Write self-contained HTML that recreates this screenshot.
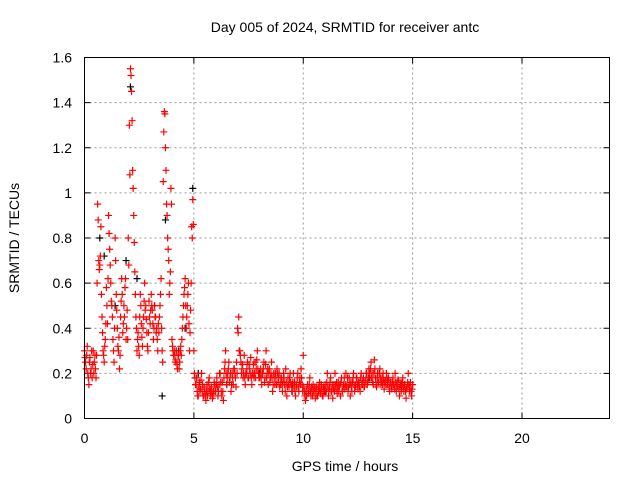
<!DOCTYPE html>
<html><head><meta charset="utf-8"><style>
body{margin:0;background:#fff}
svg{display:block;font-family:"Liberation Sans",sans-serif}
</style></head><body>
<svg id="chart" width="640" height="480" viewBox="0 0 640 480">
<rect width="640" height="480" fill="#fff"/>
<g id="grid"></g>
<g id="ticks"></g>
<g id="marks"></g>
<rect x="84.5" y="57.5" width="525" height="361" fill="none" stroke="#000" stroke-width="1"/>
<text x="345" y="32" font-size="14" text-anchor="middle">Day 005 of 2024, SRMTID for receiver antc</text>
<text x="345" y="471" font-size="14" text-anchor="middle">GPS time / hours</text>
<text transform="translate(19,238) rotate(-90)" font-size="14" text-anchor="middle">SRMTID / TECUs</text>
</svg>
<script>
const xTicks=[0,5,10,15,20];
const yTicks=[0,0.2,0.4,0.6,0.8,1,1.2,1.4,1.6];
const yTickLabels=["0","0.2","0.4","0.6","0.8","1","1.2","1.4","1.6"];
const tStart=0, tStep=0.05;
const redValues=[
.30,.25,.28,.2,.15,.27,.22,.18,.3,.25,.22,.28,.95,.7,.68,.85,.45,.3,.25,.35,
.58,.42,.9,.75,.6,.5,.35,.25,.8,.55,.4,.3,.22,.45,.62,.38,.5,.58,.35,.48,
.8,1.3,1.55,1.45,1.1,.9,.65,.45,.3,.38,.28,.55,.42,.32,.45,.6,.5,.38,.3,.52,
.42,.55,.48,.35,.5,.45,.4,.3,.38,.5,.62,.3,1.05,1.36,1.2,.95,.8,.7,.6,1.02,
.35,.3,.28,.25,.3,.22,.28,.25,.32,.35,.45,.55,.62,.4,.5,.6,.3,.48,.85,.97,
.3,.18,.15,.12,.1,.16,.13,.2,.15,.1,.12,.08,.15,.12,.18,.1,.14,.09,.12,.15,
.12,.18,.1,.15,.2,.12,.16,.08,.22,.3,.15,.2,.25,.18,.12,.2,.15,.22,.18,.25,
.4,.45,.3,.25,.22,.18,.28,.15,.2,.25,.18,.22,.27,.15,.2,.18,.25,.22,.3,.2,
.18,.22,.15,.2,.25,.18,.3,.2,.15,.22,.18,.25,.12,.2,.15,.18,.22,.16,.2,.15,
.18,.12,.2,.15,.22,.1,.18,.14,.2,.15,.12,.2,.16,.1,.14,.2,.12,.18,.22,.15,
.28,.12,.08,.1,.15,.12,.18,.1,.13,.15,.12,.09,.14,.1,.12,.16,.11,.13,.1,.12,
.15,.12,.2,.1,.14,.18,.12,.09,.15,.2,.13,.11,.16,.14,.1,.18,.12,.15,.13,.2,
.15,.12,.18,.1,.14,.16,.2,.12,.15,.18,.13,.16,.12,.2,.15,.18,.14,.17,.2,.16,
.22,.18,.25,.2,.15,.26,.18,.14,.2,.16,.22,.15,.18,.2,.13,.17,.2,.15,.18,.12,
.16,.13,.18,.15,.2,.12,.14,.17,.1,.15,.13,.18,.12,.15,.09,.14,.2,.12,.16,.1,
.15];
const t2Start=0.025;
const redValues2=[
.27,.22,.32,.18,.25,.2,.3,.24,.2,.28,.18,.6,.88,.66,.72,.55,.38,.28,.32,.42,
.5,.62,.82,.68,.52,.45,.3,.4,.7,.48,.32,.36,.28,.52,.55,.42,.45,.62,.4,.35,
.68,1.08,1.52,1.32,1.02,.78,.55,.4,.35,.32,.45,.5,.36,.4,.52,.48,.44,.32,.38,.45,
.48,.5,.42,.4,.45,.38,.35,.42,.45,.55,.4,.25,1.27,1.35,1.1,.9,.75,.55,.65,.95,
.32,.28,.3,.26,.24,.28,.22,.3,.28,.4,.5,.58,.5,.45,.55,.42,.38,.6,.8,.86,
.2,.15,.18,.1,.14,.12,.17,.12,.1,.14,.1,.12,.1,.16,.13,.12,.11,.1,.16,.12,
.15,.14,.12,.2,.16,.1,.12,.18,.25,.2,.18,.22,.16,.2,.15,.18,.22,.2,.14,.2,
.38,.3,.28,.2,.24,.2,.18,.2,.22,.18,.24,.2,.18,.2,.24,.2,.18,.26,.22,.18,
.2,.18,.2,.22,.16,.24,.18,.22,.2,.16,.2,.18,.15,.18,.2,.15,.2,.18,.14,.18,
.15,.16,.18,.12,.16,.14,.15,.18,.16,.12,.16,.14,.12,.15,.18,.14,.16,.15,.18,.12,
.14,.1,.12,.14,.11,.15,.12,.14,.1,.12,.14,.12,.1,.14,.13,.12,.15,.1,.14,.13,
.12,.16,.14,.12,.16,.12,.15,.13,.12,.15,.16,.14,.12,.15,.16,.12,.14,.18,.15,.14,
.18,.14,.15,.16,.12,.18,.15,.14,.18,.15,.16,.14,.18,.15,.17,.14,.16,.2,.15,.18,
.2,.22,.18,.16,.2,.22,.15,.18,.16,.2,.18,.16,.15,.17,.16,.15,.18,.17,.14,.16,
.14,.16,.15,.13,.16,.15,.17,.13,.15,.12,.16,.14,.15,.12,.13,.16,.15,.14,.12,.13];
const blackTimes=[0.7,0.9,1.4,1.9,2.1,2.4,3.2,3.55,3.7,4.3,4.6,4.95,5.2,6.5,8,9.5,11,13,14.5];
const blackValues=[.8,.72,.5,.7,1.47,.62,.5,.1,.88,.3,.4,1.02,.2,.15,.2,.15,.12,.18,.15];
const X0=84.5,X1=609.5,Y0=418.5,Y1=57.5;
const xs=t=>X0+(t/24)*(X1-X0);
const ys=v=>Y0-(v/1.6)*(Y0-Y1);
const NS="http://www.w3.org/2000/svg";
function mk(tag,attrs,parent){const e=document.createElementNS(NS,tag);for(const k in attrs)e.setAttribute(k,attrs[k]);parent.appendChild(e);return e;}
const grid=document.getElementById('grid'),ticks=document.getElementById('ticks'),marks=document.getElementById('marks');
xTicks.forEach(t=>{const x=xs(t);
 if(t>0){const g=mk('line',{x1:x,x2:x,y1:Y1,y2:Y0,stroke:'#999','stroke-dasharray':'2,3'},grid);
 
 }
 mk('line',{x1:x,x2:x,y1:Y0,y2:Y0-6,stroke:'#000'},ticks);
 mk('line',{x1:x,x2:x,y1:Y1,y2:Y1+6,stroke:'#000'},ticks);
 const l=mk('text',{x:x,y:443,'font-size':14,'text-anchor':'middle'},ticks);l.textContent=t;
 
 
});
yTicks.forEach((v,i)=>{const y=ys(v);
 if(v>0&&v<1.6){const g=mk('line',{x1:X0,x2:X1,y1:y,y2:y,stroke:'#999','stroke-dasharray':'2,3'},grid);
 
 }
 mk('line',{x1:X0,x2:X0+6,y1:y,y2:y,stroke:'#000'},ticks);
 mk('line',{x1:X1,x2:X1-6,y1:y,y2:y,stroke:'#000'},ticks);
 const l=mk('text',{x:72,y:y+5,'font-size':14,'text-anchor':'end'},ticks);l.textContent=yTickLabels[i];
 
 
});
function plus(x,y,c,name){const p=mk('path',{d:`M${x-3.5},${y}H${x+3.5}M${x},${y-3.5}V${y+3.5}`,stroke:c,'stroke-width':1.2,fill:'none'},marks);
 
 }
blackValues.forEach((v,i)=>plus(xs(blackTimes[i]),ys(v),'#000','black-point'));
redValues2.forEach((v,i)=>plus(xs(t2Start+i*tStep),ys(v),'#f00','red-point'));
redValues.forEach((v,i)=>plus(xs(tStart+i*tStep),ys(v),'#f00','red-point'));
</script>
</body></html>
